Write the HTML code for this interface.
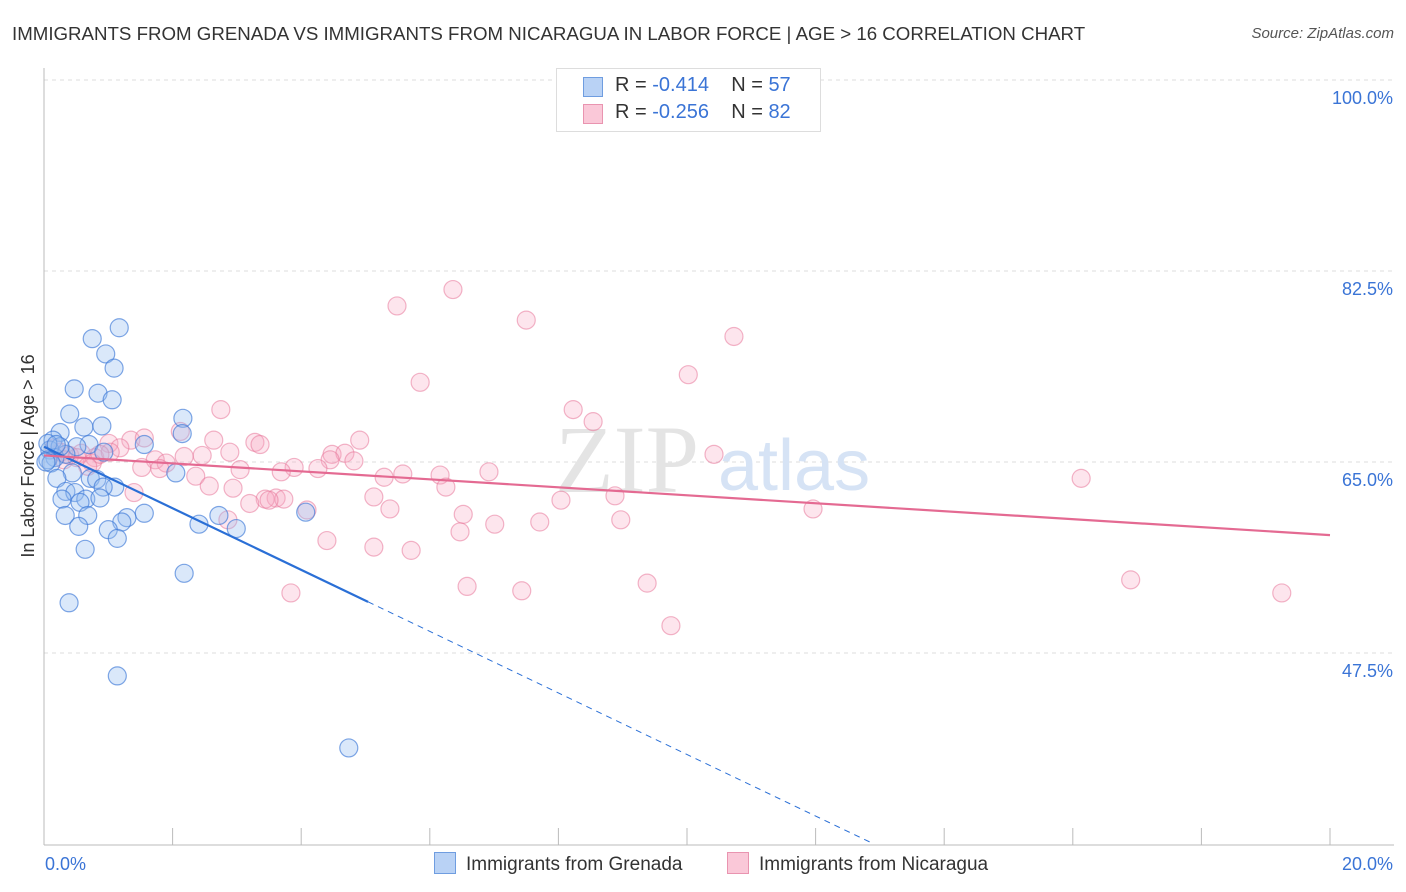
<!DOCTYPE html>
<html><head><meta charset="utf-8">
<style>
body{margin:0;background:#fff;font-family:"Liberation Sans",sans-serif;}
#wrap{position:relative;width:1406px;height:892px;overflow:hidden;}
.t{position:absolute;white-space:nowrap;}
</style></head><body>
<div id="wrap">
<div class="t" style="left:12px;top:23px;font-size:18.7px;color:#333;">IMMIGRANTS FROM GRENADA VS IMMIGRANTS FROM NICARAGUA IN LABOR FORCE | AGE &gt; 16 CORRELATION CHART</div>
<div class="t" style="right:12px;top:25px;font-size:15px;color:#555;font-style:italic;">Source: ZipAtlas.com</div>
<svg id="svg" width="1406" height="892" style="position:absolute;left:0;top:0"></svg>
</div>
<script>
const blueX=[1.17,0.75,0.96,1.09,0.47,0.84,1.06,0.40,2.16,0.62,0.90,0.25,2.15,0.14,0.70,0.51,1.56,0.09,0.93,0.34,0.17,0.06,0.11,0.44,0.20,0.72,0.82,1.10,0.92,0.34,0.48,0.28,0.65,0.87,0.56,0.33,0.68,1.56,1.29,1.21,2.72,0.54,1.00,2.41,2.99,4.07,1.14,0.64,2.18,0.39,1.14,4.74,2.05,0.03,0.25,0.06,0.19];
const blueY=[77.3,76.3,74.9,73.6,71.7,71.3,70.7,69.4,69.0,68.2,68.3,67.7,67.6,67.0,66.6,66.4,66.6,66.1,65.9,65.7,65.4,65.2,64.9,64.0,63.5,63.5,63.4,62.7,62.7,62.3,62.2,61.6,61.6,61.7,61.3,60.1,60.1,60.3,59.9,59.5,60.1,59.1,58.8,59.3,58.9,60.4,58.0,57.0,54.8,52.1,45.4,38.8,64.0,65.0,66.4,66.7,66.6];
const pinkX=[6.36,5.49,7.50,10.73,10.02,5.85,8.23,2.75,8.54,2.12,2.64,3.28,4.91,1.35,1.01,1.18,1.56,3.36,4.48,4.68,4.45,4.82,2.46,2.18,2.89,0.40,0.79,0.58,0.26,0.31,1.73,1.90,1.80,1.52,2.36,3.05,3.89,4.26,3.69,5.29,5.58,6.16,6.92,2.57,2.94,1.40,3.61,3.44,3.73,3.20,3.50,5.13,6.25,5.38,4.09,8.04,8.88,6.52,7.01,7.71,8.97,2.86,4.40,6.47,5.13,5.71,3.84,6.58,7.43,9.38,9.75,10.42,11.96,16.13,16.90,19.25,0.75,0.16,1.03,0.51,0.87,0.68];
const pinkY=[80.8,79.3,78.0,76.5,73.0,72.3,69.8,69.8,68.7,67.8,67.0,66.8,67.0,67.0,66.7,66.3,67.2,66.6,65.7,65.8,65.2,65.1,65.6,65.5,65.9,65.6,65.4,65.8,65.9,65.2,65.2,64.9,64.4,64.5,63.7,64.3,64.5,64.4,64.1,63.6,63.9,63.8,64.1,62.8,62.6,62.2,61.7,61.6,61.6,61.2,61.5,61.8,62.7,60.7,60.6,61.5,61.9,60.2,59.3,59.5,59.7,59.7,57.8,58.6,57.2,56.9,53.0,53.6,53.2,53.9,50.0,65.7,60.7,63.5,54.2,53.0,64.9,66.3,65.9,65.4,65.7,64.6];
const blueTrend=[66.4,-2.82]; // intercept, slope
const pinkTrend=[65.6,-0.365];
const yTicks=[100,82.5,65,47.5];
const yTickLabels=["100.0%","82.5%","65.0%","47.5%"];
const xTicks=[0,2,4,6,8,10,12,14,16,18,20];

const NS="http://www.w3.org/2000/svg";
const svg=document.getElementById('svg');
const X=v=>44+v*64.3, Y=v=>80+(100-v)*10.914;
function mk(tag,attrs,parent){const e=document.createElementNS(NS,tag);for(const k in attrs)e.setAttribute(k,attrs[k]);(parent||svg).appendChild(e);return e;}
yTicks.forEach((t,i)=>{
 const g=mk('line',{x1:44,x2:1394,y1:Y(t),y2:Y(t),stroke:'#ddd','stroke-dasharray':'4,4'});
 
 
 const tx=mk('text',{x:1393,y:Y(t)+24,'text-anchor':'end','font-size':18,fill:'#3a74d6','font-family':'Liberation Sans'});
 tx.textContent=yTickLabels[i];
 
 
});
mk('line',{x1:44,x2:44,y1:68,y2:845,stroke:'#bbb'});
mk('line',{x1:44,x2:1394,y1:845,y2:845,stroke:'#bbb'});
xTicks.forEach(t=>{const l=mk('line',{x1:X(t),x2:X(t),y1:828,y2:845,stroke:'#bbb'});
 
 });
const xl0=mk('text',{x:45,y:870,'font-size':18,fill:'#3a74d6','font-family':'Liberation Sans'});xl0.textContent='0.0%';


const xl1=mk('text',{x:1393,y:870,'text-anchor':'end','font-size':18,fill:'#3a74d6','font-family':'Liberation Sans'});xl1.textContent='20.0%';


const yt=mk('text',{x:34,y:456,'text-anchor':'middle','font-size':18,fill:'#333',transform:'rotate(-90 34 456)','font-family':'Liberation Sans'});yt.textContent='In Labor Force | Age > 16';


const wm=mk('text',{x:555,y:492,'font-size':96,fill:'#e4e4e4','font-family':'Liberation Serif'});wm.textContent='ZIP';


const wm2=mk('text',{x:718,y:490,'font-size':72,fill:'#d6e3f5','font-family':'Liberation Sans'});wm2.textContent='atlas';


pinkX.forEach((v,i)=>{const c=mk('circle',{cx:X(v),cy:Y(pinkY[i]),r:9,fill:'rgba(247,170,195,0.3)',stroke:'rgba(232,120,155,0.55)','stroke-width':1.2});
 
 });
blueX.forEach((v,i)=>{const c=mk('circle',{cx:X(v),cy:Y(blueY[i]),r:9,fill:'rgba(150,190,240,0.35)',stroke:'rgba(60,120,215,0.65)','stroke-width':1.2});
 
 });
const bt=v=>blueTrend[0]+blueTrend[1]*v;
const pt=v=>pinkTrend[0]+pinkTrend[1]*v;
const xEndSolid=Math.max(...blueX)+0.3;
const xBottom=(30-blueTrend[0])/blueTrend[1];
const l1=mk('line',{x1:X(0),y1:Y(bt(0)),x2:X(xEndSolid),y2:Y(bt(xEndSolid)),stroke:'#2a6fd6','stroke-width':2.2});


const l2=mk('line',{x1:X(xEndSolid),y1:Y(bt(xEndSolid)),x2:X(xBottom),y2:Y(30),stroke:'#2a6fd6','stroke-width':1,'stroke-dasharray':'6,5'});


const l3=mk('line',{x1:X(0),y1:Y(pt(0)),x2:X(20),y2:Y(pt(20)),stroke:'#e46a92','stroke-width':2.2});


</script>
<div class="t" style="left:556px;top:68px;width:263px;height:62px;border:1px solid #ddd;background:#fff;font-size:20px;color:#333;">
 <div style="position:absolute;left:26px;top:8px;width:18px;height:18px;background:#b9d2f5;border:1px solid #6f9de0"></div>
 <div style="position:absolute;left:58px;top:5px">R = <span style="color:#3a74d6">-0.414</span>&nbsp;&nbsp;&nbsp; N = <span style="color:#3a74d6">57</span></div>
 <div style="position:absolute;left:26px;top:35px;width:18px;height:18px;background:#fac8d8;border:1px solid #e994b0"></div>
 <div style="position:absolute;left:58px;top:32px">R = <span style="color:#3a74d6">-0.256</span>&nbsp;&nbsp;&nbsp; N = <span style="color:#3a74d6">82</span></div>
</div>
<div class="t" style="left:434px;top:852px;font-size:19px;color:#333;">
 <span style="display:inline-block;width:20px;height:20px;background:#b9d2f5;border:1px solid #6f9de0;vertical-align:-4px;margin-right:10px"></span>Immigrants from Grenada</div>
<div class="t" style="left:727px;top:852px;font-size:19px;color:#333;">
 <span style="display:inline-block;width:20px;height:20px;background:#fac8d8;border:1px solid #e994b0;vertical-align:-4px;margin-right:10px"></span>Immigrants from Nicaragua</div>
</body></html>
